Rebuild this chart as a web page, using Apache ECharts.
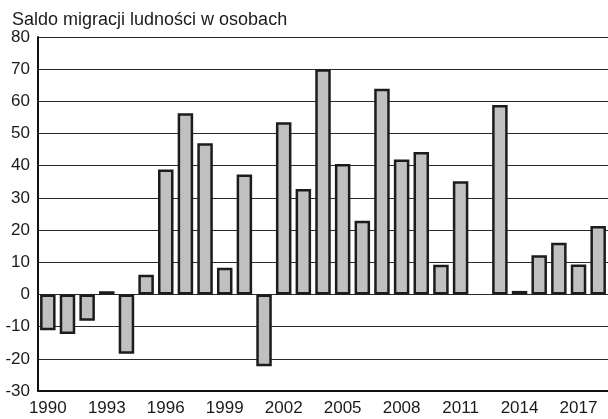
<!DOCTYPE html>
<html>
<head>
<meta charset="utf-8">
<title>Saldo migracji</title>
<script src="https://cdn.jsdelivr.net/npm/echarts@6/dist/echarts.min.js"></script>
<style>
  html, body { margin: 0; padding: 0; background: #fff; }
  #saldo { width: 608px; height: 419px; }
</style>
</head>
<body>
<div id="saldo"></div>
<script>
// lata 1990-2018
const years = ['1990', '1991', '1992', '1993', '1994', '1995', '1996', '1997', '1998', '1999',
  '2000', '2001', '2002', '2003', '2004', '2005', '2006', '2007', '2008', '2009',
  '2010', '2011', '2012', '2013', '2014', '2015', '2016', '2017', '2018']
// saldo migracji (osoby), 2012 - brak slupka
const saldo = [-11.1, -12.3, -8.2, 1.0, -18.4, 6.1, 38.8, 56.3, 47, 8.3,
  37.3, -22.3, 53.5, 32.8, 70, 40.5, 22.9, 63.9, 41.9, 44.3,
  9.2, 35.2, null, 58.9, 1.1, 12.2, 16.1, 9.3, 21.3]
const yTicks = { min: -30, max: 80, step: 10 }
const titleText = 'Saldo migracji ludności w osobach'

const font = "'Liberation Sans', Arial, Helvetica, sans-serif"
let myChart = echarts.init(document.getElementById('saldo'), null, { renderer: 'canvas' })
let option = {
  animation: false,
  backgroundColor: '#fff',
  title: {
    text: titleText,
    left: 12,
    top: 11,
    padding: 0,
    textStyle: {
      fontFamily: font,
      fontSize: 18,
      fontWeight: 'normal',
      color: '#1a1a1a'
    }
  },
  grid: {
    left: 38,
    top: 37,
    bottom: 28,
    right: -3,
    containLabel: false
  },
  xAxis: {
    type: 'category',
    data: years,
    boundaryGap: true,
    axisLine: {
      onZero: false,
      lineStyle: { color: '#111', width: 2 }
    },
    axisTick: { show: false },
    axisLabel: {
      interval: 2,
      margin: 9,
      fontFamily: font,
      fontSize: 17,
      color: '#1a1a1a'
    },
    splitLine: { show: false }
  },
  yAxis: {
    type: 'value',
    min: yTicks.min,
    max: yTicks.max,
    interval: yTicks.step,
    axisLine: {
      show: true,
      lineStyle: { color: '#111', width: 2 }
    },
    axisTick: { show: false },
    axisLabel: {
      margin: 8,
      fontFamily: font,
      fontSize: 17,
      color: '#1a1a1a'
    },
    splitLine: {
      lineStyle: { color: '#2a2a2a', width: 1 }
    }
  },
  series: [
    {
      name: 'saldo',
      type: 'bar',
      data: saldo,
      // obramowanie rysowane do srodka slupka
      barWidth: 15.5,
      itemStyle: {
        color: '#c0c0c0',
        borderColor: '#1c1c1c',
        borderWidth: 2.5
      }
    }
  ]
}
myChart.setOption(option)
</script>
</body>
</html>
